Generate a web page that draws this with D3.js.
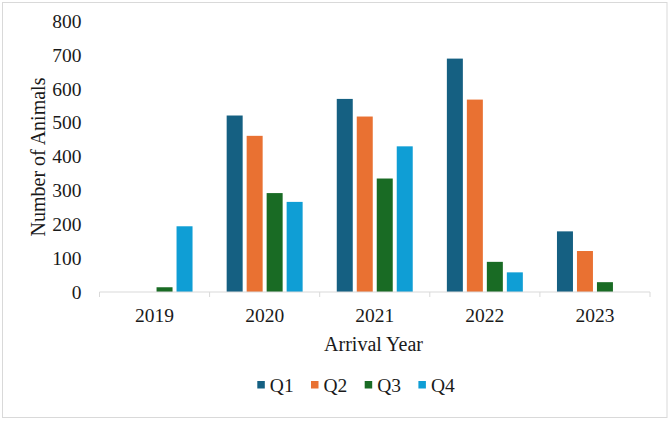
<!DOCTYPE html>
<html>
<head>
<meta charset="utf-8">
<script src="https://cdn.jsdelivr.net/npm/d3@7"></script>
<style>
  html, body { margin: 0; padding: 0; background: #fff; }
  svg text { font-family: "Liberation Serif", "Times New Roman", serif; fill: #1a1a1a; }
</style>
</head>
<body>
<svg id="chart" width="670" height="421"></svg>
<script>
// Data
const years = ["2019", "2020", "2021", "2022", "2023"];
const quarters = ["Q1", "Q2", "Q3", "Q4"];
const q1 = [0, 521, 570, 689, 179];
const q2 = [0, 461, 518, 568, 121];
const q3 = [14, 292, 335, 89, 29];
const q4 = [194, 266, 430, 58, 0];
const yTicks = [0, 100, 200, 300, 400, 500, 600, 700, 800];
const quarterColors = ["#156082", "#E97132", "#196B24", "#0F9ED5"];

const seriesValues = { Q1: q1, Q2: q2, Q3: q3, Q4: q4 };
const rows = years.map((yr, i) => ({
    year: yr,
    values: quarters.map(q => ({ key: q, value: seriesValues[q][i] }))
}));

const svg = d3.select("#chart");
const fontSize = "19.5px";
const serif = '"Liberation Serif", "Times New Roman", serif';

// outer frame
svg.append("rect")
    .attr("x", 2.5).attr("y", 2.5)
    .attr("width", 664.5).attr("height", 415)
    .attr("fill", "#fff")
    .attr("stroke", "#d9d9d9")
    .attr("stroke-width", 1);

const x0 = d3.scaleBand().domain(years).range([99.5, 650]);
const x1 = d3.scaleBand().domain(quarters)
    .range([x0.bandwidth() * 0.155, x0.bandwidth() * 0.845])
    .paddingInner(0.2);
const y = d3.scaleLinear().domain([0, 800]).range([292, 21]);
const color = d3.scaleOrdinal().domain(quarters).range(quarterColors);

// Bars
const groups = svg.append("g").selectAll("g")
    .data(rows)
    .join("g")
    .attr("transform", d => `translate(${x0(d.year)},0)`);

groups.selectAll("rect")
    .data(d => d.values.filter(v => v.value > 0))
    .join("rect")
    .attr("x", d => x1(d.key))
    .attr("y", d => y(d.value))
    .attr("width", x1.bandwidth())
    .attr("height", d => y(0) - y(d.value))
    .attr("fill", d => color(d.key));

// Y axis (labels only)
const yAxis = svg.append("g")
    .attr("transform", "translate(99.5,0)")
    .call(d3.axisLeft(y).tickValues(yTicks).tickSize(0).tickPadding(18))
    .attr("font-family", null)
    .attr("font-size", null);
yAxis.select(".domain").remove();
yAxis.selectAll("text")
    .style("font-size", fontSize)
    .style("font-family", serif)
    .style("fill", "#1a1a1a");

// X axis: baseline, boundary ticks, labels
const xAxisG = svg.append("g").attr("transform", `translate(0,${y(0)})`);
xAxisG.append("line")
    .attr("x1", x0.range()[0]).attr("x2", x0.range()[1])
    .attr("stroke", "#d9d9d9");
const bounds = years.map(yr => x0(yr)).concat([x0.range()[1]]);
xAxisG.selectAll(".bound")
    .data(bounds)
    .join("line")
    .attr("class", "bound")
    .attr("x1", d => d).attr("x2", d => d)
    .attr("y1", 0).attr("y2", 5)
    .attr("stroke", "#d9d9d9");

const xLabels = svg.append("g")
    .attr("transform", `translate(0,${y(0)})`)
    .call(d3.axisBottom(x0).tickSize(0).tickPadding(16))
    .attr("font-family", null)
    .attr("font-size", null);
xLabels.select(".domain").remove();
xLabels.selectAll("text")
    .style("font-size", fontSize)
    .style("font-family", serif)
    .style("fill", "#1a1a1a");

// Axis titles
svg.append("text")
    .attr("x", 373.5).attr("y", 351)
    .attr("text-anchor", "middle")
    .style("font-size", "20px")
    .text("Arrival Year");

svg.append("text")
    .attr("transform", "translate(45,157) rotate(-90)")
    .attr("text-anchor", "middle")
    .style("font-size", "20px")
    .text("Number of Animals");

// Legend
const legend = svg.append("g").attr("transform", "translate(257.3,0)");
const items = legend.selectAll("g")
    .data(quarters)
    .join("g")
    .attr("transform", (d, i) => `translate(${i * 53.7},0)`);
items.append("rect")
    .attr("x", 0).attr("y", 381)
    .attr("width", 7.5).attr("height", 7.5)
    .attr("fill", d => color(d));
items.append("text")
    .attr("x", 12.5).attr("y", 391.5)
    .style("font-size", fontSize)
    .text(d => d);
</script>
</body>
</html>
